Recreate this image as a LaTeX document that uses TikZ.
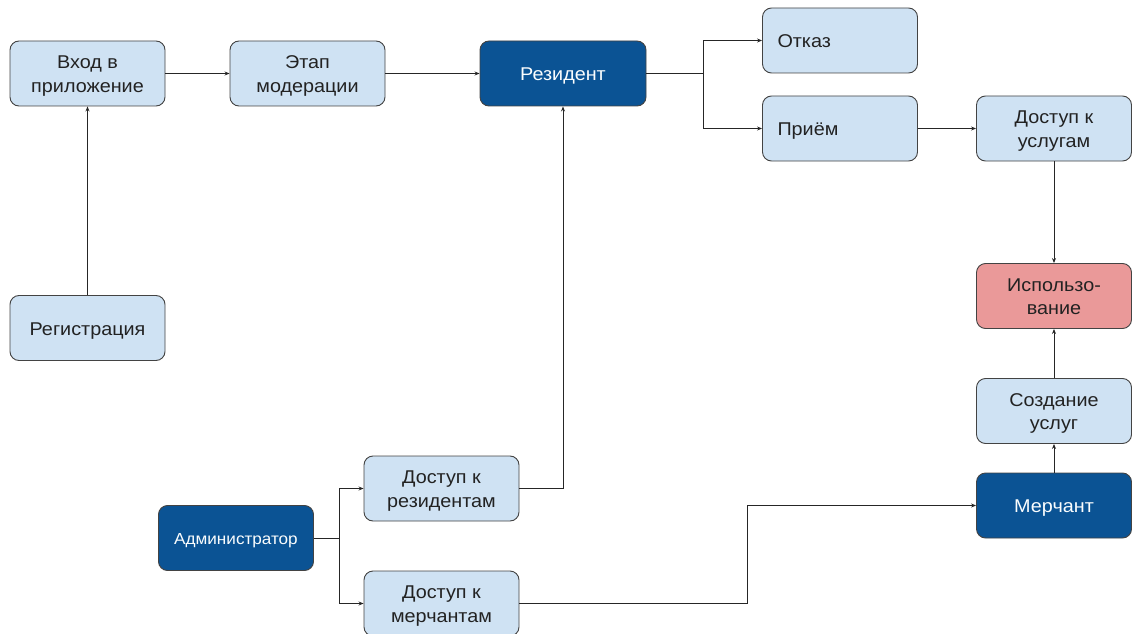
\documentclass[tikz,border=0pt]{standalone}
\usepackage{fontspec}
\setmainfont{Liberation Sans}[FakeStretch=1.07]
\usetikzlibrary{arrows.meta}
\definecolor{lightbox}{HTML}{CFE2F3}
\definecolor{darkbox}{HTML}{0B5394}
\definecolor{pinkbox}{HTML}{EA9999}
\definecolor{edge}{HTML}{434343}
\definecolor{txt}{HTML}{222222}
\newcommand\tc[1]{\raisebox{-2.5pt}[\height][\depth]{\begin{tabular}{@{}c@{}}#1\end{tabular}}}
\newcommand\tlft[1]{\raisebox{-2.5pt}[\height][\depth]{\begin{tabular}{@{}l@{}}#1\end{tabular}}}
\tikzset{
  box/.style={draw=edge, line width=0.9pt, rounded corners=9pt, minimum width=155pt, minimum height=65pt, inner sep=0pt, align=center,
    font=\fontsize{18.5}{23.5}\selectfont, text=txt},
  lbox/.style={box, fill=lightbox},
  dbox/.style={box, fill=darkbox, text=white!92!lightbox},
  pbox/.style={box, fill=pinkbox},
  leftbox/.style={lbox, align=left, text width=125pt, inner xsep=15pt},
  arr/.style={draw=black!85, line width=0.8pt, -{Stealth[length=5pt,width=4pt]}}
}
\begin{document}
\begin{tikzpicture}[x=1pt,y=-1pt]
\useasboundingbox (0,0) rectangle (1136,634);
\node[lbox] (vhod) at (87.5,73.5) {\tc{Вход в\\приложение}};
\node[lbox] (etap) at (307.5,73.5) {\tc{Этап\\модерации}};
\node[dbox, minimum width=166pt] (rez) at (563,73.5) {\tc{Резидент}};
\node[leftbox] (otkaz) at (840,40.5) {\tlft{Отказ}};
\node[leftbox] (prim) at (840,128.5) {\tlft{Приём}};
\node[lbox] (dost) at (1054,128.5) {\tc{Доступ к\\услугам}};
\node[pbox] (isp) at (1054,296) {\tc{Использо-\\вание}};
\node[lbox] (sozd) at (1054,411) {\tc{Создание\\услуг}};
\node[dbox] (mer) at (1054,505.5) {\tc{Мерчант}};
\node[lbox] (reg) at (87.5,328) {\tc{Регистрация}};
\node[dbox, font=\fontsize{16}{20}\selectfont] (adm) at (236,538) {\tc{Администратор}};
\node[lbox] (dr) at (441.5,488.5) {\tc{Доступ к\\резидентам}};
\node[lbox] (dm) at (441.5,603.5) {\tc{Доступ к\\мерчантам}};

\draw[arr] (reg) -- (vhod);
\draw[arr] (vhod) -- (etap);
\draw[arr] (etap) -- (rez);
\draw[arr] (rez.east) -- ++(57,0) coordinate (j1) |- (otkaz.west);
\draw[arr] (j1) |- (prim.west);
\draw[arr] (prim) -- (dost);
\draw[arr] (dost) -- (isp);
\draw[arr] (sozd) -- (isp);
\draw[arr] (mer) -- (sozd);
\draw[arr] (adm.east) -- ++(25,0) coordinate (j2) |- (dr.west);
\draw[arr] (j2) |- (dm.west);
\draw[arr] (dr.east) -| (rez.south);
\draw[arr] (dm.east) -- ++(228,0) |- (mer.west);
\end{tikzpicture}
\end{document}
